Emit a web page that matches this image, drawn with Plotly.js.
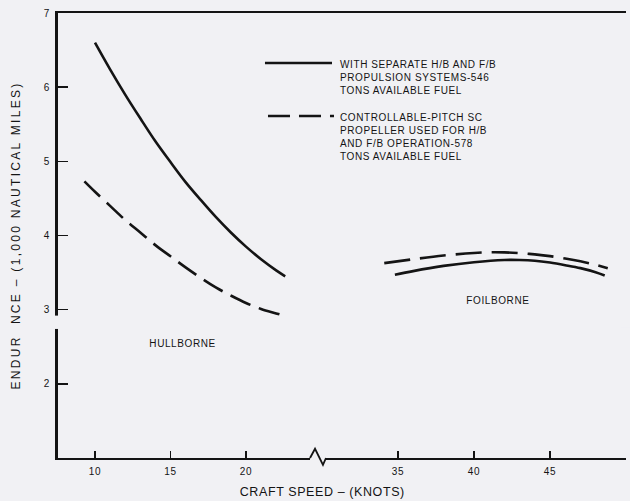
<!DOCTYPE html>
<html>
<head>
<meta charset="utf-8">
<script src="https://cdn.plot.ly/plotly-3.0.1.min.js"></script>
<style>
html,body{margin:0;padding:0;background:#f1f1f4;}
#chart{width:630px;height:501px;}
.main-svg text{letter-spacing:0.6px;}
.ytitle{letter-spacing:2.3px !important;}
</style>
</head>
<body>
<div id="chart"></div>
<script>
// Hullborne (left section of the speed axis)
const hbSpeedSolid = [10, 11, 12, 13, 14, 15, 16, 17, 18, 19, 20, 21, 22, 22.6];
const hbEndSolid   = [6.60, 6.24, 5.90, 5.58, 5.27, 4.99, 4.72, 4.48, 4.25, 4.04, 3.85, 3.68, 3.53, 3.45];
const hbSpeedDash  = [9.3, 10, 11, 12, 13, 14, 15, 16, 17, 18, 19, 20, 21, 22, 22.5];
const hbEndDash    = [4.73, 4.59, 4.40, 4.21, 4.04, 3.87, 3.72, 3.57, 3.43, 3.30, 3.19, 3.09, 3.01, 2.95, 2.92];
// Foilborne (right section of the speed axis)
const fbSpeedSolid = [34.8, 36, 38, 40, 42, 43, 44, 45, 46, 47, 48, 48.6];
const fbEndSolid   = [3.47, 3.52, 3.59, 3.64, 3.67, 3.67, 3.66, 3.635, 3.60, 3.56, 3.505, 3.46];
const fbSpeedDash  = [34.1, 36, 38, 40, 41, 42, 43, 44, 45, 46, 47, 48, 48.8];
const fbEndDash    = [3.627, 3.68, 3.73, 3.765, 3.773, 3.772, 3.762, 3.745, 3.722, 3.69, 3.652, 3.605, 3.56];

const xTicksLeft  = [10, 15, 20];
const xTicksRight = [35, 40, 45, 50];
const yTicks      = [2, 3, 4, 5, 6, 7];

const legendSolid = 'WITH SEPARATE H/B AND F/B<br>PROPULSION SYSTEMS-546<br>TONS AVAILABLE FUEL';
const legendDash  = 'CONTROLLABLE-PITCH SC<br>PROPELLER USED FOR H/B<br>AND F/B OPERATION-578<br>TONS AVAILABLE FUEL';
const regionLabels = ['HULLBORNE', 'FOILBORNE'];
const xTitle = 'CRAFT SPEED – (KNOTS)';
const yTitle = 'ENDUR  NCE – (1,000 NAUTICAL MILES)';

const INK = '#141414';
const BG = '#f1f1f4';
const FONT = 'Liberation Sans, Arial, sans-serif';
const dashPat = '22px,9px';

const traces = [
  {x: hbSpeedSolid, y: hbEndSolid, xaxis: 'x', yaxis: 'y', mode: 'lines',
   line: {color: INK, width: 2.6, shape: 'spline', smoothing: 1}, hoverinfo: 'skip'},
  {x: hbSpeedDash, y: hbEndDash, xaxis: 'x', yaxis: 'y', mode: 'lines',
   line: {color: INK, width: 2.6, shape: 'spline', smoothing: 1, dash: dashPat}, hoverinfo: 'skip'},
  {x: fbSpeedSolid, y: fbEndSolid, xaxis: 'x2', yaxis: 'y', mode: 'lines',
   line: {color: INK, width: 2.6, shape: 'spline', smoothing: 1}, hoverinfo: 'skip'},
  {x: fbSpeedDash, y: fbEndDash, xaxis: 'x2', yaxis: 'y', mode: 'lines',
   line: {color: INK, width: 2.6, shape: 'spline', smoothing: 1, dash: '26px,10px'}, hoverinfo: 'skip'}
];

const split = 0.4577;
const tickFont = {family: FONT, size: 10, color: INK};

const layout = {
  width: 630, height: 501,
  margin: {l: 58, r: 4, t: 13, b: 43},
  paper_bgcolor: BG, plot_bgcolor: BG,
  showlegend: false,
  font: {family: FONT, color: INK},
  xaxis: {domain: [0, split], range: [7.55, 24.77], anchor: 'y',
    tickvals: xTicksLeft, ticktext: xTicksLeft.map(String),
    ticks: 'inside', ticklen: 7, tickwidth: 1.5, tickcolor: INK,
    showline: true, linewidth: 2, linecolor: INK, mirror: true,
    showgrid: false, zeroline: false, tickfont: tickFont, ticklabelstandoff: 3},
  xaxis2: {domain: [split, 1], range: [29.74, 50], anchor: 'y',
    tickvals: xTicksRight, ticktext: xTicksRight.map(String),
    ticks: 'inside', ticklen: 7, tickwidth: 1.5, tickcolor: INK,
    showline: true, linewidth: 2, linecolor: INK, mirror: true,
    showgrid: false, zeroline: false, tickfont: tickFont, ticklabelstandoff: 3},
  yaxis: {range: [1, 7], anchor: 'x', side: 'left',
    tickvals: yTicks, ticktext: yTicks.map(String),
    ticks: 'inside', ticklen: 10, tickwidth: 1.5, tickcolor: INK,
    showline: true, linewidth: 3, linecolor: INK,
    showgrid: false, zeroline: false, tickfont: tickFont, ticklabelstandoff: 3,
    title: {text: yTitle, font: {family: FONT, size: 12, color: INK}, standoff: 22}},
  yaxis2: {range: [1, 7], anchor: 'x2', overlaying: 'y', side: 'right',
    showline: true, linewidth: 1.6, linecolor: INK, ticks: '', showticklabels: false,
    showgrid: false, zeroline: false},
  shapes: [
    // breaks in the vertical frame lines
    {type: 'rect', xref: 'paper', yref: 'y', x0: -0.012, x1: 0.012, y0: 2.74, y1: 2.92,
     fillcolor: BG, line: {width: 0}, layer: 'above'},
    {type: 'rect', xref: 'paper', yref: 'y', x0: 0.99, x1: 1.01, y0: 2.76, y1: 2.91,
     fillcolor: BG, line: {width: 0}, layer: 'above'},
    // axis break on the speed axis
    {type: 'rect', xref: 'paper', yref: 'paper', x0: 0.4437, x1: 0.4718, y0: -0.007, y1: 0.007,
     fillcolor: BG, line: {width: 0}, layer: 'above'},
    {type: 'path', xref: 'paper', yref: 'paper',
     path: 'M 0.4437,0 L 0.4525,0.0207 L 0.4665,-0.0153 L 0.4718,0',
     line: {color: INK, width: 1.8}, layer: 'above'},
    // legend samples
    {type: 'line', xref: 'paper', yref: 'paper', x0: 0.3644, x1: 0.4824, y0: 0.8876, y1: 0.8876,
     line: {color: INK, width: 2.4}},
    {type: 'line', xref: 'paper', yref: 'paper', x0: 0.3697, x1: 0.4859, y0: 0.7685, y1: 0.7685,
     line: {color: INK, width: 2.4, dash: dashPat}}
  ],
  annotations: [
    {xref: 'paper', yref: 'paper', x: 0.4930, y: 0.8876 + 0.0146, xanchor: 'left', yanchor: 'top',
     text: legendSolid, showarrow: false, align: 'left',
     font: {family: FONT, size: 10, color: INK}},
    {xref: 'paper', yref: 'paper', x: 0.4930, y: 0.7685 + 0.0146, xanchor: 'left', yanchor: 'top',
     text: legendDash, showarrow: false, align: 'left',
     font: {family: FONT, size: 10, color: INK}},
    {xref: 'x', yref: 'y', x: 15.8, y: 2.55, text: regionLabels[0], showarrow: false,
     font: {family: FONT, size: 10, color: INK}},
    {xref: 'x2', yref: 'y', x: 41.6, y: 3.13, text: regionLabels[1], showarrow: false,
     font: {family: FONT, size: 10, color: INK}},
    {xref: 'paper', yref: 'paper', x: 0.4665, y: -0.0775, yanchor: 'middle', text: xTitle,
     showarrow: false, font: {family: FONT, size: 12.5, color: INK}}
  ]
};

Plotly.newPlot('chart', traces, layout, {staticPlot: true, displayModeBar: false});
</script>
</body>
</html>
